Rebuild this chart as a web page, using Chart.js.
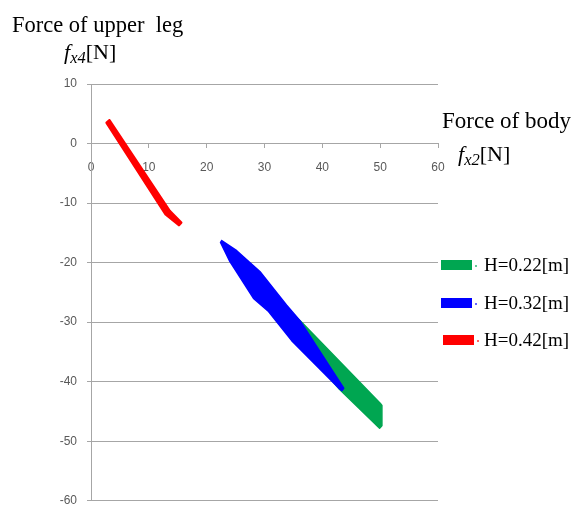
<!DOCTYPE html>
<html>
<head>
<meta charset="utf-8">
<script src="https://cdn.jsdelivr.net/npm/chart.js@4"></script>
<style>
  html, body { margin: 0; padding: 0; background: #fff; }
  #wrap { position: relative; width: 574px; height: 518px; font-family: "Liberation Serif", "Times New Roman", serif; color: #000; }
  #wrap canvas { position: absolute; left: 0; top: 0; }
  .t { position: absolute; white-space: pre; line-height: 1; }
  .t i { font-style: italic; }
  .t sub { font-size: 0.75em; vertical-align: -0.22em; }
  #legend { position: absolute; left: 441px; top: 255px; }
  .item { position: absolute; left: 0; height: 20px; white-space: nowrap; }
  .box { position: absolute; width: 31px; height: 10px; }
  .dot { position: absolute; width: 2px; height: 2px; top: 10px; opacity: 0.6; }
  .lbl { position: absolute; left: 43px; top: 0; font-size: 19px; line-height: 20px; }
</style>
</head>
<body>
<div id="wrap">
  <canvas id="forcechart" width="574" height="518"></canvas>
  <div class="t" style="left:12px; top:14px; font-size:22.5px;">Force of upper  leg</div>
  <div class="t" style="left:64px; top:41px; font-size:22px;"><i>f</i><sub><i>x4</i></sub>[N]</div>
  <div class="t" style="left:442px; top:109px; font-size:23px;">Force of body</div>
  <div class="t" style="left:458px; top:143px; font-size:22px;"><i>f</i><sub><i>x2</i></sub>[N]</div>
  <div id="legend"></div>
</div>
<script>
// series names and colours
const seriesNames = ['H=0.22[m]', 'H=0.32[m]', 'H=0.42[m]'];
const seriesColors = ['#00a651', '#0000ff', '#ff0000'];

// outline of each band (x = force of body, y = force of upper leg)
const greenX = [33.6, 36.3, 50.0, 50.3, 50.3, 49.9, 43.0, 36.0, 33.4, 33.6];
const greenY = [-27.6, -29.9, -43.6, -44.0, -47.4, -47.8, -41.3, -33.5, -29.5, -27.6];

const blueX = [22.6, 25.2, 29.2, 33.8, 36.1, 43.7, 43.4, 43.0, 34.7, 30.7, 28.1, 24.0, 22.4, 22.6];
const blueY = [-16.3, -18.0, -21.5, -27.1, -29.7, -41.1, -41.5, -41.2, -33.1, -28.2, -26.0, -19.8, -16.6, -16.3];

const redX = [3.2, 13.6, 15.6, 15.2, 12.9, 2.7, 3.2];
const redY = [3.9, -11.3, -13.3, -13.7, -11.9, 3.5, 3.9];

// axis ranges
const xRange = [0, 60];
const yRange = [-60, 10];
const tickStep = 10;

function toPoints(xs, ys) {
    return xs.map(function (x, i) { return {x: x, y: ys[i]}; });
}

const bands = [toPoints(greenX, greenY), toPoints(blueX, blueY), toPoints(redX, redY)];
const bandWidth = [1.5, 1.5, 2.5];
const bandOrder = [3, 2, 1];

const gridGray = '#a6a6a6';
const tickFont = {family: '"Liberation Sans", Arial, sans-serif', size: 12};

const chartdata = {
    datasets: bands.map(function (pts, i) {
        return {
            label: seriesNames[i],
            data: pts,
            showLine: true,
            fill: 'shape',
            tension: 0,
            order: bandOrder[i],
            backgroundColor: seriesColors[i],
            borderColor: seriesColors[i],
            borderWidth: bandWidth[i],
            borderJoinStyle: 'round',
            borderCapStyle: 'round',
            pointRadius: 0,
            pointHoverRadius: 0
        };
    })
};

const config = {
    type: 'scatter',
    data: chartdata,
    options: {
        responsive: false,
        animation: false,
        events: [],
        layout: {
            padding: {left: 0, right: 136, top: 84, bottom: 10}
        },
        plugins: {
            legend: {display: false},
            tooltip: {enabled: false}
        },
        scales: {
            x: {
                type: 'linear',
                position: {y: 0},
                min: xRange[0],
                max: xRange[1],
                ticks: {stepSize: tickStep, color: '#595959', font: tickFont, padding: 13, maxRotation: 0},
                grid: {drawOnChartArea: false, drawTicks: true, tickLength: 4, color: gridGray},
                border: {display: true, color: gridGray}
            },
            y: {
                type: 'linear',
                min: yRange[0],
                max: yRange[1],
                ticks: {stepSize: tickStep, color: '#595959', font: tickFont, padding: 10},
                grid: {color: gridGray, tickLength: 4},
                border: {display: true, color: gridGray},
                afterFit: function (scale) { scale.width = 91; }
            }
        }
    }
};

const forcechart = new Chart(document.getElementById('forcechart'), config);

// legend on the right, one row per band
const legendRows = [0, 38, 75];
const legendShift = [0, 0, 2];
const legend = document.getElementById('legend');
seriesNames.forEach(function (name, i) {
    const row = document.createElement('div');
    row.className = 'item';
    row.style.top = legendRows[i] + 'px';
    const box = document.createElement('div');
    box.className = 'box';
    box.style.left = legendShift[i] + 'px';
    box.style.top = '5px';
    box.style.background = seriesColors[i];
    const dot = document.createElement('div');
    dot.className = 'dot';
    dot.style.left = (legendShift[i] + 34) + 'px';
    dot.style.background = seriesColors[i];
    const lbl = document.createElement('div');
    lbl.className = 'lbl';
    lbl.textContent = name;
    row.appendChild(box);
    row.appendChild(dot);
    row.appendChild(lbl);
    legend.appendChild(row);
});
</script>
</body>
</html>
